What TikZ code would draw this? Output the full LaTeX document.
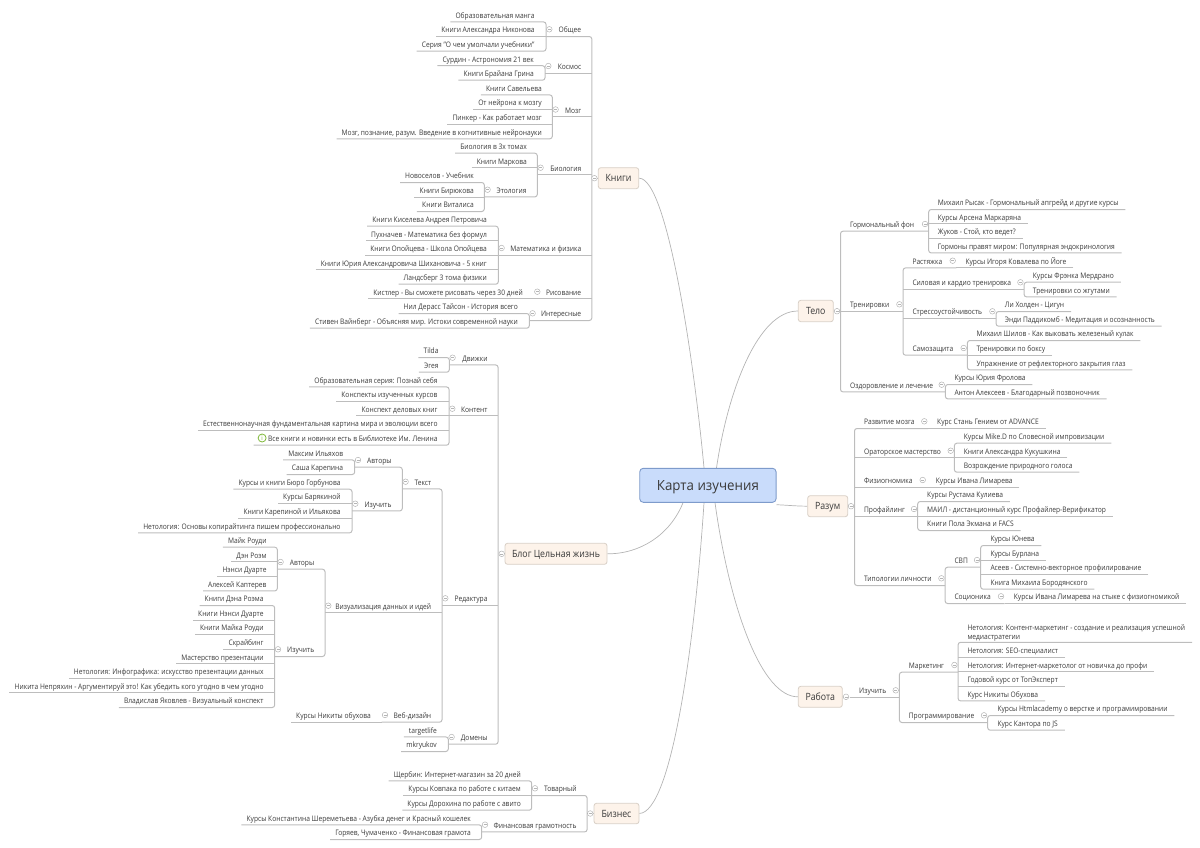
\documentclass[tikz,border=0pt]{standalone}
\usepackage{fontspec}
\setmainfont[FakeStretch=0.877]{Open Sans}
\newfontfamily\rootfont[FakeStretch=0.95]{Open Sans}
\pgfdeclarelayer{bg}
\pgfsetlayers{bg,main}
\definecolor{lnk}{HTML}{BDBDBD}
\definecolor{cur}{HTML}{B4B4B4}
\definecolor{txt}{HTML}{3A3A3A}
\definecolor{boxf}{HTML}{FDF3EA}
\definecolor{boxd}{HTML}{D8CFC6}
\definecolor{rootf}{HTML}{C9DCFB}
\definecolor{rootd}{HTML}{7E9BCB}
\definecolor{togd}{HTML}{B5B5B5}
\definecolor{icong}{HTML}{7FB83A}
\tikzset{
  leafbase/.style={inner ysep=3pt,text height=7.5pt,text depth=.5pt,text=txt,font=\fontsize{7.6}{9.7}\selectfont},
  leafl/.style={leafbase,inner xsep=5pt},
  leafr/.style={leafbase,inner xsep=6.7pt},
  leafm/.style={inner ysep=.5pt,inner xsep=6.7pt,align=left,text=txt,font=\fontsize{7.6}{9.7}\selectfont},
  inner/.style={leafbase,inner xsep=0pt},
  lk/.style={draw=lnk,line width=1pt},
  rk/.style={lk,rounded corners=2.5pt},
  crv/.style={draw=cur,line width=.7pt},
  tog/.style={circle,draw=togd,fill=white,line width=.5pt,minimum size=5.6pt,inner sep=0pt,
    path picture={\draw[togd,line width=.5pt] (path picture bounding box.center) +(-1.5pt,0) -- +(1.5pt,0);}},
  topic/.style={draw=boxd,fill=boxf,rounded corners=2.5pt,line width=.8pt,inner sep=0pt,text=txt,text height=8pt,text depth=1pt,font=\fontsize{10}{12}\selectfont},
  rootn/.style={draw=rootd,fill=rootf,rounded corners=3.5pt,line width=.9pt,inner sep=0pt,text=txt,text height=12pt,text depth=1pt,font=\rootfont\fontsize{14}{15}\selectfont},
  spine/.style={shape=rectangle,inner sep=0pt,minimum size=0pt}
}
\newcommand{\LL}[4]{\node[leafl,anchor=east] (#1) at ({#2+5},#3) {#4};}
\newcommand{\RL}[4]{\node[leafr,anchor=west] (#1) at ({#2-6.7},#3) {#4};}
\newcommand{\LP}[5]{\pgfmathsetmacro{\wdt}{#3-#2}%
  \node[inner,anchor=west] (#1) at (#2,#4) {\makebox[\wdt pt][r]{#5\hspace{11pt}}};
  \node[tog] (#1c) at ({#2+3.3},#4) {};}
\newcommand{\RP}[5]{\pgfmathsetmacro{\wdt}{#3-#2}%
  \node[inner,anchor=west] (#1) at (#2,#4) {\makebox[\wdt pt][l]{\hspace{9.6pt}#5}};
  \node[tog] (#1c) at ({#3-3.3},#4) {};}
\newcommand{\BL}[3]{\begin{pgfonlayer}{bg}\draw[rk] (#2.south west) -- (#2.south -| #1.south west) -- (#3.south -| #1.south west) -- (#3.south west);\end{pgfonlayer}}
\newcommand{\BR}[3]{\begin{pgfonlayer}{bg}\draw[rk] (#2.south east) -- (#2.south -| #1.south east) -- (#3.south -| #1.south east) -- (#3.south east);\end{pgfonlayer}}
\newcommand{\ML}[2]{\begin{pgfonlayer}{bg}\foreach \cc in {#2} {\draw[lk] (\cc.south west) -- (\cc.south -| #1.south west);}\end{pgfonlayer}}
\newcommand{\MR}[2]{\begin{pgfonlayer}{bg}\foreach \cc in {#2} {\draw[lk] (\cc.south east) -- (\cc.south -| #1.south east);}\end{pgfonlayer}}
\begin{document}
\begin{tikzpicture}[x=1pt,y=-1pt]
\useasboundingbox (0,0) rectangle (1200,847);
% ---------- centre and main topics
\node[rootn,minimum width=136.3pt,minimum height=34pt] (root) at (707.9,485.3) {Карта изучения};
\node[topic,minimum width=40.4pt,minimum height=21pt] (kn) at (618.5,178.2) {Книги};
\node[topic,minimum width=102pt,minimum height=21pt] (bl) at (556,553.8) {Блог Цельная жизнь};
\node[topic,minimum width=45pt,minimum height=20.4pt] (bz) at (616.5,813.5) {Бизнес};
\node[topic,minimum width=35pt,minimum height=21.4pt] (te) at (815.8,311) {Тело};
\node[topic,minimum width=40pt,minimum height=21pt] (ra) at (827.7,506.2) {Разум};
\node[topic,minimum width=44pt,minimum height=21pt] (wk) at (820.3,696.8) {Работа};
\begin{pgfonlayer}{bg}
\draw[crv] (kn.east) .. controls (668,178) and (695,370) .. ([xshift=-3.9pt]root.north);
\draw[crv] (te.west) .. controls (758,311) and (728,390) .. ([xshift=8.6pt]root.north);
\draw[crv] (ra.west) .. controls (793,506) and (786,505) .. ([yshift=-2pt]root.south east);
\draw[crv] (bl.east) .. controls (640,554) and (670,535) .. ([xshift=-24.9pt]root.south);
\draw[crv] (bz.east) .. controls (672,812) and (695,640) .. ([xshift=-3.9pt]root.south);
\draw[crv] (wk.west) .. controls (762,697) and (730,610) .. ([xshift=7.1pt]root.south);
\end{pgfonlayer}
% ---------- spines
\node[spine] (knT) at (592,178.2) {};
\node[spine] (blT) at (498.3,553.8) {};
\node[spine] (bzT) at (587.3,813.5) {};
\node[spine] (teT) at (840.3,311.2) {};
\node[spine] (raT) at (854.3,506.2) {};
\node[spine] (wkT) at (849.4,697.3) {};
\begin{pgfonlayer}{bg}
\draw[lk] (kn.west) -- (knT); \draw[lk] (bl.west) -- (blT); \draw[lk] (bz.west) -- (bzT);
\draw[lk] (te.east) -- (teT); \draw[lk] (ra.east) -- (raT); \draw[lk] (wk.east) -- (wkT);
\end{pgfonlayer}
\node[tog] (knc) at (594.4,178.2) {};
\node[tog] (blc) at (501.7,553.8) {};
\node[tog] (bzc) at (590.2,813.5) {};
\node[tog] (tec) at (837,311.2) {};
\node[tog] (rac) at (851,506.2) {};
\node[tog] (wkc) at (846,696.8) {};
% ---------- Книги
\LP{ob}{546}{592}{29.3}{Общее}
\LL{ob1}{534.7}{14.7}{Образовательная манга}
\LL{ob2}{534.7}{29.3}{Книги Александра Никонова}
\LL{ob3}{534.7}{44}{Серия "О чем умолчали учебники"}
\BL{ob}{ob1}{ob3}\ML{ob}{ob2}
\LP{ko}{545}{592}{66}{Космос}
\LL{ko1}{534}{58.5}{Сурдин - Астрономия 21 век}
\LL{ko2}{534}{73}{Книги Брайана Грина}
\BL{ko}{ko1}{ko2}
\LP{mz}{552.3}{592}{109.5}{Мозг}
\LL{mz1}{542}{87.7}{Книги Савельева}
\LL{mz2}{542}{102.3}{От нейрона к мозгу}
\LL{mz3}{542}{117}{Пинкер - Как работает мозг}
\LL{mz4}{542}{131.6}{Мозг, познание, разум. Введение в когнитивные нейронауки}
\BL{mz}{mz1}{mz4}\ML{mz}{mz2,mz3}
\LP{bi}{537.3}{592}{167.7}{Биология}
\LL{bi1}{527}{146}{Биология в 3х томах}
\LL{bi2}{527}{160.7}{Книги Маркова}
\LP{et}{484.3}{537.3}{189.7}{Этология}
\LL{et1}{474}{175.3}{Новоселов - Учебник}
\LL{et2}{474}{190}{Книги Бирюкова}
\LL{et3}{474}{204.3}{Книги Виталиса}
\BL{et}{et1}{et3}\ML{et}{et2}
\BL{bi}{bi1}{et}\ML{bi}{bi2}
\LP{mf}{498.3}{592}{248}{Математика и физика}
\LL{mf1}{487}{219}{Книги Киселева Андрея Петровича}
\LL{mf2}{487}{233.5}{Пухначев - Математика без формул}
\LL{mf3}{487}{248}{Книги Опойцева - Школа Опойцева}
\LL{mf4}{487}{262.5}{Книги Юрия Александровича Шихановича - 5 книг}
\LL{mf5}{487}{277}{Ландсберг 3 тома физики}
\BL{mf}{mf1}{mf5}\ML{mf}{mf2,mf3,mf4}
\LP{rs}{534}{592}{291.7}{Рисование}
\LL{rs1}{523}{291.7}{Кистлер - Вы сможете рисовать через 30 дней}
\ML{rs}{rs1}
\LP{it}{529.3}{592}{313.3}{Интересные}
\LL{it1}{518}{306.3}{Нил Дерасс Тайсон - История всего}
\LL{it2}{518}{321}{Стивен Вайнберг - Объясняя мир. Истоки современной науки}
\BL{it}{it1}{it2}
\BL{knT}{ob}{it}\ML{knT}{ko,mz,bi,mf,rs}
% ---------- Блог
\LP{dv}{449.3}{498.3}{357.7}{Движки}
\LL{dv1}{438.7}{350.3}{Tilda}
\LL{dv2}{438.7}{365}{Эгея}
\BL{dv}{dv1}{dv2}
\LP{kt}{449}{498.3}{408.7}{Контент}
\LL{kt1}{437.7}{379.7}{Образовательная серия: Познай себя}
\LL{kt2}{437.7}{394.3}{Конспекты изученных курсов}
\LL{kt3}{437.7}{408.7}{Конспект деловых книг}
\LL{kt4}{437.7}{423.3}{Естественнонаучная фундаментальная картина мира и эволюции всего}
\LL{kt5}{437.7}{438}{\hspace*{9.3pt}Все книги и новинки есть в Библиотеке Им. Ленина}
\node[circle,draw=icong,line width=.8pt,fill=white,minimum size=8pt,inner sep=0pt,text=icong,font=\fontsize{6.5}{7}\selectfont] (kt5i) at ([xshift=8.6pt]kt5.west) {i};
\BL{kt}{kt1}{kt5}\ML{kt}{kt2,kt3,kt4}
\LP{rd}{442}{498.3}{598.3}{Редактура}
\LP{tx}{402.3}{442}{481.7}{Текст}
\LP{av}{354.7}{402.3}{460}{Авторы}
\LL{av1}{343.3}{452.7}{Максим Ильяхов}
\LL{av2}{343.3}{467.3}{Саша Карепина}
\BL{av}{av1}{av2}
\LP{iz}{352}{402.3}{503.7}{Изучить}
\LL{iz1}{340.7}{482}{Курсы и книги Бюро Горбунова}
\LL{iz2}{340.7}{496.3}{Курсы Барякиной}
\LL{iz3}{340.7}{511}{Книги Карепиной и Ильякова}
\LL{iz4}{340.7}{525.7}{Нетология: Основы копирайтинга пишем профессионально}
\BL{iz}{iz1}{iz4}\ML{iz}{iz2,iz3}
\BL{tx}{av}{iz}
\LP{vz}{325}{442}{605.7}{Визуализация данных и идей}
\LP{va}{277.3}{325}{562}{Авторы}
\LL{va1}{266.7}{540}{Майк Роуди}
\LL{va2}{266.7}{554.7}{Дэн Роэм}
\LL{va3}{266.7}{569.3}{Нэнси Дуарте}
\LL{va4}{266.7}{583.7}{Алексей Каптерев}
\BL{va}{va1}{va4}\ML{va}{va2,va3}
\LP{vi}{274.7}{325}{649.3}{Изучить}
\LL{vi1}{263.7}{598.3}{Книги Дэна Роэма}
\LL{vi2}{263.7}{613}{Книги Нэнси Дуарте}
\LL{vi3}{263.7}{627.3}{Книги Майка Роуди}
\LL{vi4}{263.7}{642}{Скрайбинг}
\LL{vi5}{263.7}{656.7}{Мастерство презентации}
\LL{vi6}{263.7}{671.3}{Нетология: Инфографика: искусство презентации данных}
\LL{vi7}{263.7}{685.7}{Никита Непряхин - Аргументируй это! Как убедить кого угодно в чем угодно}
\LL{vi8}{263.7}{700.3}{Владислав Яковлев - Визуальный конспект}
\BL{vi}{vi1}{vi8}\ML{vi}{vi2,vi3,vi4,vi5,vi6,vi7}
\BL{vz}{va}{vi}
\LP{wb}{381.7}{442}{715}{Веб-дизайн}
\LL{wb1}{371}{715}{Курсы Никиты обухова}
\ML{wb}{wb1}
\BL{rd}{tx}{wb}\ML{rd}{vz}
\LP{dm}{448.3}{498.3}{737}{Домены}
\LL{dm1}{437}{729.7}{targetlife}
\LL{dm2}{437}{744.3}{mkryukov}
\BL{dm}{dm1}{dm2}
\BL{blT}{dv}{dm}\ML{blT}{kt,rd}
% ---------- Бизнес
\LP{tv}{531.7}{587.3}{788.3}{Товарный}
\LL{tv1}{521}{773.7}{Щербин: Интернет-магазин за 20 дней}
\LL{tv2}{521}{788.3}{Курсы Ковпака по работе с китаем}
\LL{tv3}{521}{803}{Курсы Дорохина по работе с авито}
\BL{tv}{tv1}{tv3}\ML{tv}{tv2}
\LP{fn}{481.7}{587.3}{824.7}{Финансовая грамотность}
\LL{fn1}{471}{817.7}{Курсы Константина Шереметьева - Азубка денег и Красный кошелек}
\LL{fn2}{471}{832.3}{Горяев, Чумаченко - Финансовая грамота}
\BL{fn}{fn1}{fn2}
\BL{bzT}{tv}{fn}
% ---------- Тело
\RP{gf}{840.3}{928.3}{224}{Гормональный фон}
\RL{gf1}{937.7}{202.3}{Михаил Рысак - Гормональный апгрейд и другие курсы}
\RL{gf2}{937.7}{216.7}{Курсы Арсена Маркаряна}
\RL{gf3}{937.7}{231.3}{Жуков - Стой, кто ведет?}
\RL{gf4}{937.7}{245.7}{Гормоны правят миром: Популярная эндокринология}
\BR{gf}{gf1}{gf4}\MR{gf}{gf2,gf3}
\RP{tn}{840.3}{902.7}{304.3}{Тренировки}
\RP{rj}{902.7}{956}{260.7}{Растяжка}
\RL{rj1}{965.3}{260.7}{Курсы Игоря Ковалева по Йоге}
\MR{rj}{rj1}
\RP{si}{902.7}{1023.7}{282.3}{Силовая и кардио тренировка}
\RL{si1}{1032.7}{275}{Курсы Фрэнка Мердрано}
\RL{si2}{1032.7}{289.7}{Тренировки со жгутами}
\BR{si}{si1}{si2}
\RP{sr}{902.7}{995.7}{311.3}{Стрессоустойчивость}
\RL{sr1}{1004.7}{304.3}{Ли Холден - Цигун}
\RL{sr2}{1004.7}{319}{Энди Паддикомб - Медитация и осознанность}
\BR{sr}{sr1}{sr2}
\RP{sz}{902.7}{967}{348}{Самозащита}
\RL{sz1}{976.3}{333.3}{Михаил Шилов - Как выковать железеный кулак}
\RL{sz2}{976.3}{348}{Тренировки по боксу}
\RL{sz3}{976.3}{362.7}{Упражнение от рефлекторного закрытия глаз}
\BR{sz}{sz1}{sz3}\MR{sz}{sz2}
\BR{tn}{rj}{sz}\MR{tn}{si,sr}
\RP{oz}{840.3}{945}{384.7}{Оздоровление и лечение}
\RL{oz1}{954.3}{377.3}{Курсы Юрия Фролова}
\RL{oz2}{954.3}{391.7}{Антон Алексеев - Благодарный позвоночник}
\BR{oz}{oz1}{oz2}
\BR{teT}{gf}{oz}\MR{teT}{tn}
% ---------- Разум
\RP{rm}{854.3}{927.6}{421.3}{Развитие мозга}
\RL{rm1}{937}{421.3}{Курс Стань Гением от ADVANCE}
\MR{rm}{rm1}
\RP{om}{854.3}{954}{450.7}{Ораторское мастерство}
\RL{om1}{963.7}{436}{Курсы Mike.D по Словесной импровизации}
\RL{om2}{963.7}{450.7}{Книги Александра Кукушкина}
\RL{om3}{963.7}{465}{Возрождение природного голоса}
\BR{om}{om1}{om3}\MR{om}{om2}
\RP{fz}{854.3}{926}{480}{Физиогномика}
\RL{fz1}{935.7}{480}{Курсы Ивана Лимарева}
\MR{fz}{fz1}
\RP{pf}{854.3}{917.3}{509}{Профайлинг}
\RL{pf1}{927}{494.3}{Курсы Рустама Кулиева}
\RL{pf2}{927}{509}{МАИЛ - дистанционный курс Профайлер-Верификатор}
\RL{pf3}{927}{523.3}{Книги Пола Экмана и FACS}
\BR{pf}{pf1}{pf3}\MR{pf}{pf2}
\RP{tp}{854.3}{944.7}{578.3}{Типологии личности}
\RP{sv}{944.7}{980.3}{560}{СВП}
\RL{sv1}{990.3}{538.3}{Курсы Юнева}
\RL{sv2}{990.3}{553}{Курсы Бурлана}
\RL{sv3}{990.3}{567.3}{Асеев - Системно-векторное профилирование}
\RL{sv4}{990.3}{582}{Книга Михаила Бородянского}
\BR{sv}{sv1}{sv4}\MR{sv}{sv2,sv3}
\RP{sc}{944.7}{1004.3}{596.3}{Соционика}
\RL{sc1}{1013.7}{596.3}{Курсы Ивана Лимарева на стыке с физиогномикой}
\MR{sc}{sc1}
\BR{tp}{sv}{sc}
\BR{raT}{rm}{tp}\MR{raT}{om,fz,pf}
% ---------- Работа
\RP{iw}{849.4}{899}{690.3}{Изучить}
\MR{wkT}{iw}
\RP{ma}{899}{957.7}{665}{Маркетинг}
\node[leafm,anchor=south west] (ma1) at (960.6,642.3) {Нетология: Контент-маркетинг - создание и реализация успешной\\медиастратегии};
\RL{ma2}{967.3}{650}{Нетология: SEO-специалист}
\RL{ma3}{967.3}{664.7}{Нетология: Интернет-маркетолог от новичка до профи}
\RL{ma4}{967.3}{679}{Годовой курс от ТопЭксперт}
\RL{ma5}{967.3}{693.7}{Курс Никиты Обухова}
\BR{ma}{ma1}{ma5}\MR{ma}{ma2,ma3,ma4}
\RP{pg}{899}{987.3}{715.3}{Программирование}
\RL{pg1}{997.3}{708.3}{Курсы Htmlacademy о верстке и програмимровании}
\RL{pg2}{997.3}{723}{Курс Кантора по JS}
\BR{pg}{pg1}{pg2}
\BR{iw}{ma}{pg}
\end{tikzpicture}
\end{document}
